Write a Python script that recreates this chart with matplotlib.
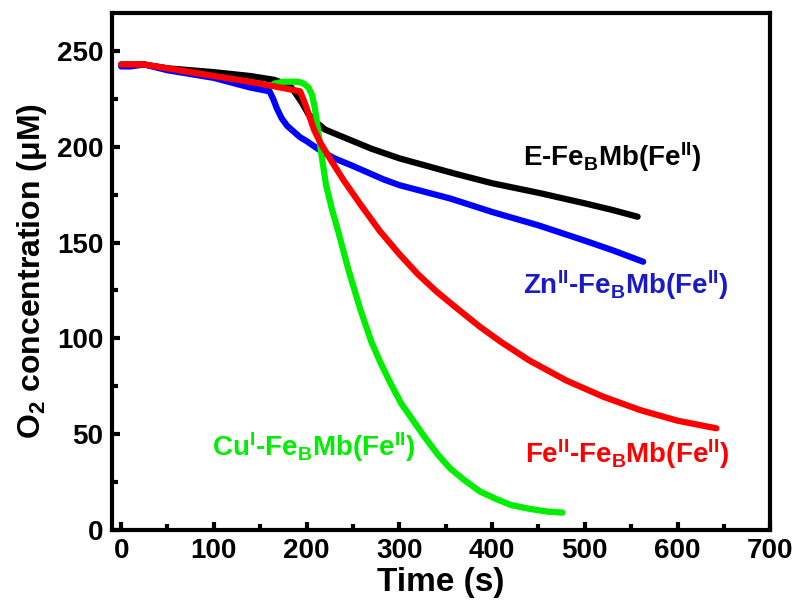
import matplotlib
matplotlib.use("Agg")
import matplotlib.pyplot as plt
from matplotlib.ticker import MultipleLocator

plt.rcParams['font.family'] = ['Liberation Sans', 'DejaVu Sans']
plt.rcParams['font.weight'] = 'bold'
plt.rcParams['mathtext.fontset'] = 'custom'
plt.rcParams['mathtext.rm'] = 'Liberation Sans:bold'
plt.rcParams['mathtext.it'] = 'Liberation Sans:bold'
plt.rcParams['mathtext.bf'] = 'Liberation Sans:bold'
plt.rcParams['mathtext.sf'] = 'Liberation Sans:bold'

# O2 consumption traces (time in s, concentration in uM)
t_e = [0, 10, 25, 50, 100, 139, 165, 182, 188, 195, 202, 210, 220, 235, 250, 270, 300,
       330, 360, 400, 450, 500, 530, 557]
c_e = [243, 243, 243, 241, 239, 237, 235, 232, 228, 223, 217, 213, 209, 206, 203, 199, 194,
       190, 186, 181, 176, 170.5, 167, 163.5]

t_zn = [0, 10, 25, 50, 100, 139, 160, 164, 168, 173, 179, 186, 193, 200, 215, 230, 250,
        283, 300, 355, 400, 450, 500, 530, 563]
c_zn = [242, 242, 243, 240, 236, 231, 229, 225, 220, 215, 211, 208, 205, 203, 198, 194, 190,
        183, 180, 173, 166, 159, 151, 146, 140]

t_fe = [0, 10, 25, 50, 100, 139, 193, 198, 203, 208, 215, 225, 240, 258, 279, 300, 320,
        340, 360, 387, 410, 440, 480, 520, 560, 600, 642]
c_fe = [243, 243, 243, 241, 237, 234, 229, 223, 216, 209, 202, 194, 182.5, 170, 156, 144, 133.5,
        124.5, 116.5, 106, 98, 88.5, 78, 69.5, 62.5, 57, 53]

t_cu = [165, 175, 185, 191, 197, 202, 206, 209, 212, 216, 221, 227, 234, 245, 258, 270, 280,
        290, 302, 315, 328, 342, 355, 370, 387, 405, 420, 440, 460, 476]
c_cu = [233, 234, 234, 234, 233, 231, 227, 220, 210, 196, 180, 168, 156, 136, 115, 98, 87,
        77, 66, 57, 48, 39, 32, 26, 20, 16, 13, 11, 9.5, 9]

labels = ['E-Fe$_B$Mb(Fe$^{II}$)', 'Zn$^{II}$-Fe$_B$Mb(Fe$^{II}$)',
          'Cu$^{I}$-Fe$_B$Mb(Fe$^{II}$)', 'Fe$^{II}$-Fe$_B$Mb(Fe$^{II}$)']

fig = plt.figure(figsize=(7.99, 6.09), dpi=100)
ax = fig.add_axes([0.140, 0.130, 0.824, 0.849])

lw = 4.5
style = dict(lw=lw, solid_capstyle='round', solid_joinstyle='round')
ax.plot(t_e, c_e, color='black', **style)
ax.plot(t_zn, c_zn, color='#0000ff', **style)
ax.plot(t_cu, c_cu, color='#00ee00', **style)
ax.plot(t_fe, c_fe, color='#ff0000', **style)

fs = 20
ax.text(433, 190, labels[0], color='black', fontsize=fs, fontweight='bold', va='baseline')
ax.text(433, 123, labels[1], color='#1a1ac8', fontsize=fs, fontweight='bold', va='baseline')
ax.text(98, 38.5, labels[2], color='#00ee00', fontsize=fs, fontweight='bold', va='baseline')
ax.text(435, 35, labels[3], color='#ff0000', fontsize=fs, fontweight='bold', va='baseline')

ax.set_xlim(-10, 700)
ax.set_ylim(0, 270)
ax.xaxis.set_major_locator(MultipleLocator(100))
ax.xaxis.set_minor_locator(MultipleLocator(50))
ax.yaxis.set_major_locator(MultipleLocator(50))
ax.yaxis.set_minor_locator(MultipleLocator(25))

for s in ax.spines.values():
    s.set_linewidth(3)
ax.tick_params(which='major', direction='in', length=6, width=3, labelsize=20, pad=6)
ax.tick_params(which='minor', direction='in', length=4, width=3)
ax.tick_params(top=False, right=False, which='both')
for lab in ax.get_xticklabels() + ax.get_yticklabels():
    lab.set_fontweight('bold')

ax.set_xlabel('Time (s)', fontsize=24, fontweight='bold', labelpad=2)
ax.set_ylabel('O$_2$ concentration (\u03bcM)', fontsize=23, fontweight='bold', labelpad=6)

fig.savefig('out.png', dpi=100)
